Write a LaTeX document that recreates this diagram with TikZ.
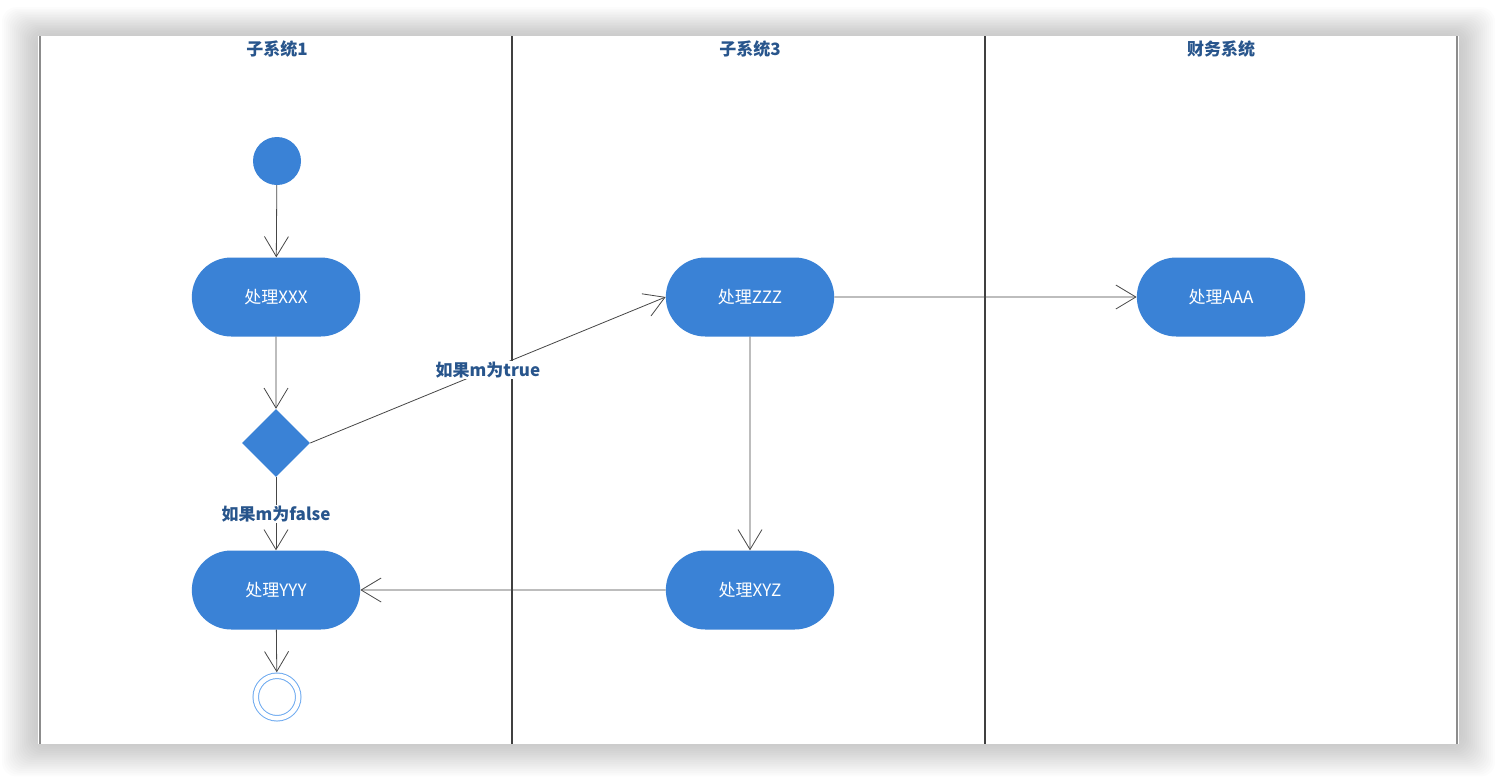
\documentclass[tikz,border=0pt]{standalone}
\usepackage{fontspec}
\setmainfont{Noto Sans CJK SC}
\usetikzlibrary{shapes.geometric,shapes.misc,arrows.meta}
\definecolor{nodeBlue}{RGB}{58,130,214}
\definecolor{ringBlue}{RGB}{110,170,240}
\definecolor{titleBlue}{RGB}{40,85,140}
\definecolor{edgeGrey}{RGB}{70,70,70}

\begin{document}
\begin{tikzpicture}[x=1pt,y=-1pt,
    action/.style={rounded rectangle, fill=nodeBlue, text=white, minimum width=175pt, minimum height=79pt, font=\fontsize{17}{20}\selectfont},
    flow/.style={draw=edgeGrey, line width=0.8pt, -{Straight Barb[length=20pt,width=24pt]}},
    lane/.style={text=titleBlue, font=\fontsize{17}{20}\selectfont\bfseries},
    guard/.style={fill=white, text=titleBlue, inner sep=1pt, font=\fontsize{17}{20}\selectfont\bfseries}]
        \useasboundingbox (0,0) rectangle (1498,780);

        % window shadow and panel
        \foreach \i in {1,...,18}
            \fill[black, opacity=0.012, rounded corners=14pt] (38-2*\i,36-1.6*\i) rectangle (1459+2*\i,744+1.8*\i);
        \fill[white] (38,36) rectangle (1459,744);
        \draw[black!45, line width=1.2pt] (40,36) -- (40,744);
        \draw[black!45, line width=1.2pt] (1457,36) -- (1457,744);

        % swimlanes
        \draw[black!75, line width=1.6pt] (512,36) -- (512,744);
        \draw[black!75, line width=1.6pt] (985,36) -- (985,744);
        \node[lane] (lane1) at (277,49) {子系统1};
        \node[lane] (lane3) at (750,49) {子系统3};
        \node[lane] (laneF) at (1221,49) {财务系统};

        % activities
        \node[circle, fill=nodeBlue, minimum size=48pt, inner sep=0pt] (start) at (277,161) {};
        \node[action] (xxx) at (276,297) {处理XXX};
        \node[diamond, fill=nodeBlue, minimum width=68pt, minimum height=68pt, inner sep=0pt] (choice) at (276,443) {};
        \node[action] (yyy) at (276,590) {处理YYY};
        \node[circle, draw=ringBlue, line width=1pt, double=white, double distance=4.5pt, minimum size=42.5pt, inner sep=0pt] (final) at (277,697) {};
        \node[action] (zzz) at (750,297) {处理ZZZ};
        \node[action] (xyz) at (750,590) {处理XYZ};
        \node[action] (aaa) at (1221,297) {处理AAA};

        % transitions
        \draw[flow] (start) -- (xxx);
        \draw[flow] (xxx) -- (choice);
        \draw[flow] (choice.east) -- node[guard] {如果m为true} (zzz.west);
        \draw[flow] (choice.south) -- node[guard] {如果m为false} (yyy.north);
        \draw[flow] (zzz) -- (xyz);
        \draw[flow] (zzz) -- (aaa);
        \draw[flow] (xyz) -- (yyy);
        \draw[flow, shorten >=3pt] (yyy) -- (final);
    \end{tikzpicture}
\end{document}
